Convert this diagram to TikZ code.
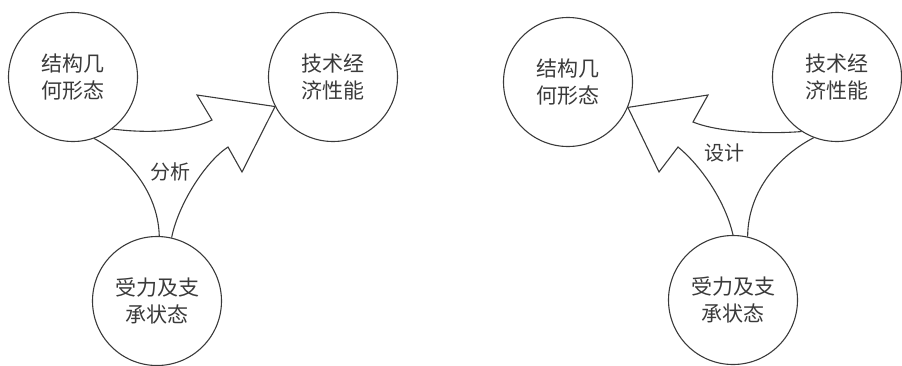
\documentclass[tikz,border=0pt]{standalone}
\usepackage{fontspec}
\newfontfamily\cjk{Noto Sans CJK SC}
\definecolor{ink}{HTML}{3A3A3A}
\begin{document}
\begin{tikzpicture}[x=1pt,y=-1pt,
  st/.style={circle, draw=ink, line width=1.1pt, minimum size=129pt, inner sep=0pt, align=center,
    font=\cjk\fontsize{21}{27}\selectfont, text=ink},
  ln/.style={draw=ink, line width=1.1pt, line join=miter},
  lab/.style={font=\cjk\fontsize{20}{24}\selectfont, text=ink}]
\useasboundingbox (0,0) rectangle (902,365);
\clip (0,0) rectangle (902,365);
% left panel
\node[st] (A) at (73,77) {结构几\\何形态};
\node[st] (B) at (333,77) {技术经\\济性能};
\node[st] (C) at (157,301) {受力及支\\承状态};
\draw[ln] (A.-53) .. controls (150,134) and (190,131) .. (212,120) -- (197,95) -- (B.207)
  -- (242,172) -- (228,147) .. controls (205,162) and (178,205) .. (C.77);
\draw[ln] (A.-71) .. controls (125,155) and (158,190) .. (C.88);
\node[lab] (l1) at (170,172) {分析};
% right panel
\node[st] (A2) at (568,82) {结构几\\何形态};
\node[st] (B2) at (837,77) {技术经\\济性能};
\node[st] (C2) at (733,300) {受力及支\\承状态};
\draw[ln] (B2.237) .. controls (770,134) and (720,133) .. (693,122) -- (708,95) -- (A2.-23)
  -- (659,172) -- (678,147) .. controls (700,165) and (725,200) .. (C2.90);
\draw[ln] (B2.249) .. controls (780,155) and (748,190) .. (C2.77);
\node[lab] (l2) at (724,153) {设计};
\end{tikzpicture}
\end{document}
